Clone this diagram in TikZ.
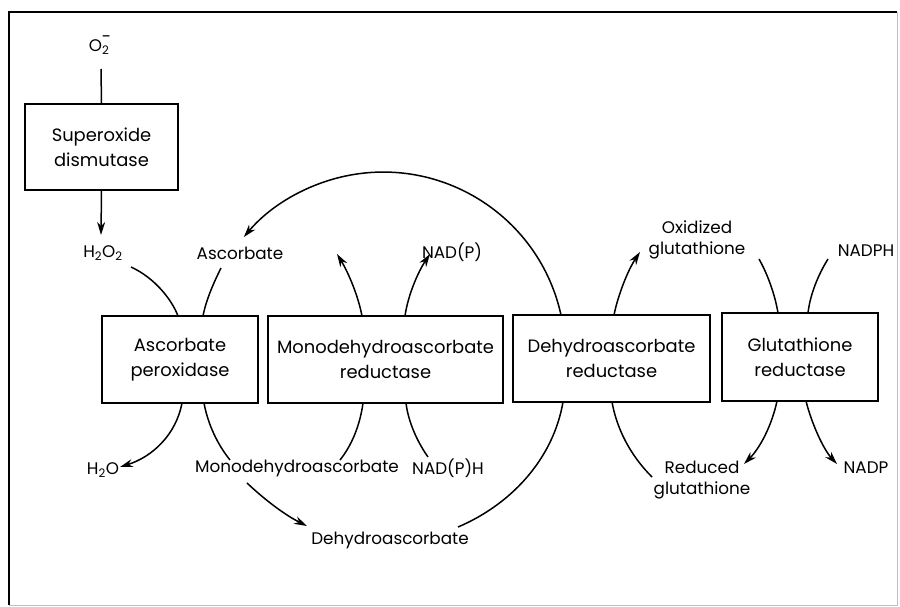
\documentclass[tikz,border=0pt]{standalone}
\usepackage{fontspec}
\setmainfont{Poppins}
\usetikzlibrary{arrows.meta}
\begin{document}
\begin{tikzpicture}[x=1pt,y=1pt,
  lab/.style={font=\fontsize{16.8}{21}\selectfont, inner sep=0pt, align=center},
  enz/.style={draw, line width=1.5pt, inner sep=0pt, font=\fontsize{17.9}{25}\selectfont, align=center},
  con/.style={line width=1.5pt},
  arr/.style={con, -{Stealth[length=13pt,width=8pt]}}]
\useasboundingbox (0,0) rectangle (900,-607);
% frame
\draw[line width=1.4pt] (9,-605) -- (9,-12) -- (897,-12);
\draw[line width=0.8pt, black!25] (897,-12) -- (897,-605) -- (9,-605);

% enzyme boxes
\node[enz, minimum width=153, minimum height=86] (sod) at (101.5,-147) {Superoxide\\dismutase};
\node[enz, minimum width=156, minimum height=87] (apx) at (180,-359.5) {Ascorbate\\peroxidase};
\node[enz, minimum width=235, minimum height=87] (mdhar) at (385.5,-359.5) {Monodehydroascorbate\\reductase};
\node[enz, minimum width=197, minimum height=87] (dhar) at (611.5,-358.5) {Dehydroascorbate\\reductase};
\node[enz, minimum width=156, minimum height=88] (gr) at (800,-357) {Glutathione\\reductase};

% labels
\node[lab] (o2) at (100,-45) {O\textsubscript{2}\kern-0.45em\raisebox{0.55em}{-}};
\node[lab] (h2o2) at (103,-253) {H\textsubscript{2}O\textsubscript{2}};
\node[lab] (asc) at (240,-253) {Ascorbate};
\node[lab] (nadp1) at (452,-252) {NAD(P)};
\node[lab] (oxg) at (697,-240) {Oxidized\\glutathione};
\node[lab] (nadph) at (866,-251) {NADPH};
\node[lab] (h2o) at (103,-470) {H\textsubscript{2}O};
\node[lab] (mda) at (297,-468) {Monodehydroascorbate};
\node[lab] (nadph1) at (448,-468) {NAD(P)H};
\node[lab] (dha) at (390,-540) {Dehydroascorbate};
\node[lab] (redg) at (702,-480) {Reduced\\glutathione};
\node[lab] (nadp) at (866,-468) {NADP};

% end points
\coordinate (o2b) at (101,-69);
\coordinate (sodt) at (sod.north);
\coordinate (sodb) at (sod.south);
\coordinate (h2o2t) at (101,-235);
\coordinate (h2o2e) at (131,-267);
\coordinate (apxT1) at (178,-316);
\coordinate (asce) at (221,-268);
\coordinate (apxT2) at (203,-316);
\coordinate (apxB1) at (182,-403);
\coordinate (h2oe) at (120,-467);
\coordinate (apxB2) at (204,-403);
\coordinate (mdae) at (230,-460);
\coordinate (mdas) at (247,-483);
\coordinate (dhae) at (307,-526);
\coordinate (mdarB1) at (363,-403);
\coordinate (mdae2) at (340,-460);
\coordinate (mdarB2) at (406,-403);
\coordinate (nadphe) at (428,-457);
\coordinate (mdarT1) at (362,-316);
\coordinate (nadx) at (337,-254);
\coordinate (mdarT2) at (405,-316);
\coordinate (nadpe) at (430,-254);
\coordinate (dharT1) at (561,-315);
\coordinate (dharT2) at (614,-315);
\coordinate (oxge) at (640,-252);
\coordinate (dharB1) at (563,-402);
\coordinate (dhas) at (458,-527);
\coordinate (dharB2) at (612,-402);
\coordinate (redge) at (652,-477);
\coordinate (oxgs) at (759,-259);
\coordinate (grT1) at (778,-313);
\coordinate (nadphs) at (828,-259);
\coordinate (grT2) at (808,-313);
\coordinate (grB1) at (777,-401);
\coordinate (redgt) at (744,-464);
\coordinate (grB2) at (806,-401);
\coordinate (nadpt) at (837,-464);

% connectors
\draw[con] (o2b) -- (sodt);
\draw[arr] (sodb) -- (h2o2t);
\draw[con] (h2o2e) .. controls (155,-278) and (172,-300) .. (apxT1);
\draw[con] (asce) .. controls (214,-282) and (206,-300) .. (apxT2);
\draw[arr] (apxB1) .. controls (176,-435) and (152,-457) .. (h2oe);
\draw[con] (apxB2) .. controls (208,-425) and (218,-445) .. (mdae);
\draw[arr] (mdas) .. controls (265,-500) and (285,-515) .. (dhae);
\draw[con] (mdae2) .. controls (352,-445) and (360,-425) .. (mdarB1);
\draw[con] (nadphe) .. controls (416,-440) and (408,-420) .. (mdarB2);
\draw[arr] (mdarT1) .. controls (358,-295) and (348,-272) .. (nadx);
\draw[arr] (mdarT2) .. controls (408,-295) and (418,-272) .. (nadpe);
\draw[arr] (dharT1) arc[start angle=12.4, end angle=140, radius=182];
\draw[con] (dhas) .. controls (510,-505) and (553,-460) .. (dharB1);
\draw[con] (dharB2) .. controls (618,-435) and (635,-460) .. (redge);
\draw[arr] (dharT2) .. controls (618,-295) and (628,-270) .. (oxge);
\draw[con] (oxgs) .. controls (768,-275) and (775,-295) .. (grT1);
\draw[con] (nadphs) .. controls (818,-275) and (810,-295) .. (grT2);
\draw[arr] (grB1) .. controls (772,-425) and (760,-448) .. (redgt);
\draw[arr] (grB2) .. controls (812,-425) and (824,-450) .. (nadpt);
\end{tikzpicture}
\end{document}
